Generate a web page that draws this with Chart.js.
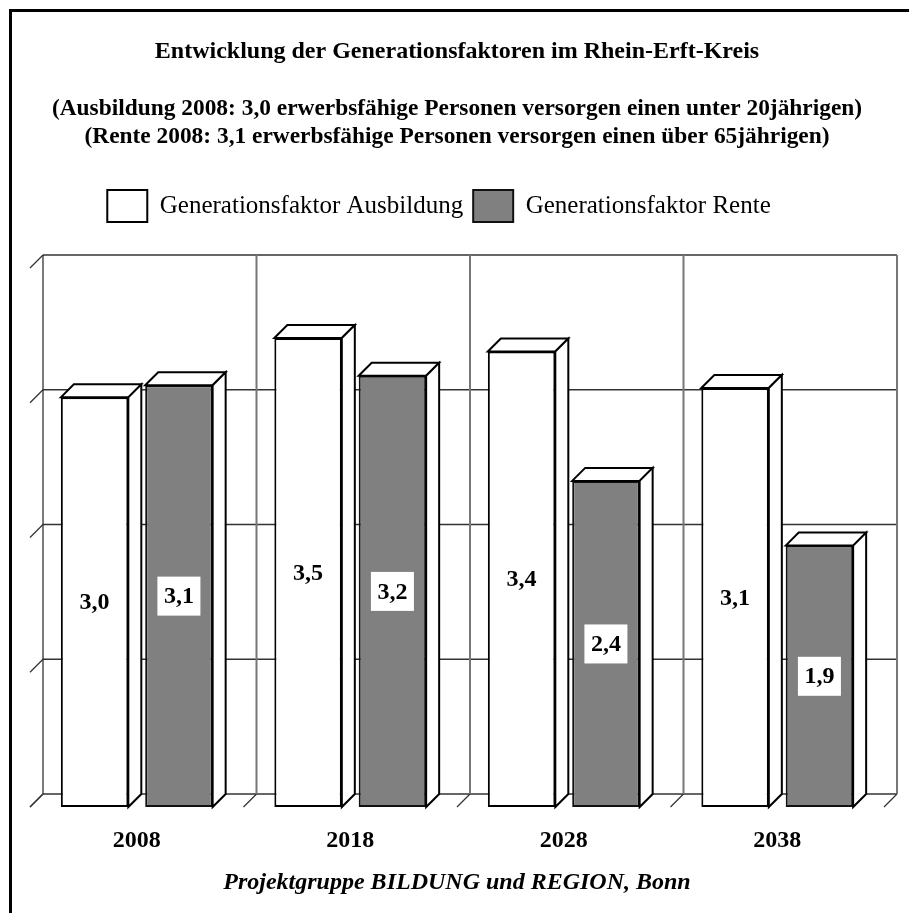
<!DOCTYPE html>
<html>
<head>
<meta charset="utf-8">
<script src="https://cdn.jsdelivr.net/npm/chart.js@4.4.1/dist/chart.umd.min.js"></script>
<style>
  html, body { margin: 0; padding: 0; background: #fff; }
  canvas { display: block; }
</style>
</head>
<body>
<canvas id="chart" width="909" height="913"></canvas>
<script>
// Kategorien und Werte
const years = ["2008", "2018", "2028", "2038"];
const ausbildung = [3.04, 3.48, 3.38, 3.11];
const rente = [3.13, 3.20, 2.42, 1.94];
const yTicks = [0, 1, 2, 3, 4];

const seriesNames = ["Generationsfaktor Ausbildung", "Generationsfaktor Rente"];
const mainTitle = "Entwicklung der Generationsfaktoren im Rhein-Erft-Kreis";
const subLines = [
  "(Ausbildung 2008: 3,0 erwerbsfähige Personen versorgen einen unter 20jährigen)",
  "(Rente 2008: 3,1 erwerbsfähige Personen versorgen einen über 65jährigen)"
];
const footer = "Projektgruppe BILDUNG und REGION, Bonn";

const FONT = "'Liberation Serif', 'Times New Roman', serif";
const DX = 13, DY = 13; // Tiefe der 3D-Optik

// helper: draw a filled + stroked polygon
function poly(ctx, pts, fill) {
  ctx.beginPath();
  ctx.moveTo(pts[0][0], pts[0][1]);
  for (let i = 1; i < pts.length; i++) ctx.lineTo(pts[i][0], pts[i][1]);
  ctx.closePath();
  ctx.fillStyle = fill;
  ctx.fill();
  ctx.stroke();
}

function line(ctx, x1, y1, x2, y2) {
  ctx.beginPath();
  ctx.moveTo(x1, y1);
  ctx.lineTo(x2, y2);
  ctx.stroke();
}

// back wall, 3d bar faces and value labels
const bars3d = {
  id: 'bars3d',
  afterLayout(chart) {
    // Legende sitzt im Original etwas links von der Mitte
    chart.legend.left -= 36;
  },
  beforeDraw(chart) {
    const ctx = chart.ctx;
    ctx.save();
    ctx.fillStyle = '#fff';
    ctx.fillRect(0, 0, chart.width, chart.height);
    // Rahmen (nur oben + links sichtbar)
    ctx.strokeStyle = '#000';
    ctx.lineWidth = 3;
    ctx.beginPath();
    ctx.moveTo(10.5, chart.height);
    ctx.lineTo(10.5, 10.5);
    ctx.lineTo(chart.width, 10.5);
    ctx.stroke();
    ctx.restore();
  },
  beforeDatasetsDraw(chart) {
    const {ctx, chartArea: a, scales: {x, y}} = chart;
    const top = y.getPixelForValue(yTicks[yTicks.length - 1]);
    const bottom = y.getPixelForValue(yTicks[0]);
    ctx.save();
    ctx.strokeStyle = '#333';
    ctx.lineWidth = 1.3;
    yTicks.forEach(v => {
      const py = y.getPixelForValue(v);
      line(ctx, a.left + DX, py - DY, a.right + DX, py - DY);
      line(ctx, a.left, py, a.left + DX, py - DY);
    });
    for (let i = 0; i <= years.length; i++) {
      const px = x.getPixelForValue(i - 0.5);
      ctx.strokeStyle = i === 0 ? '#222' : '#777';
      ctx.lineWidth = i === 0 ? 1.2 : 2;
      line(ctx, px + DX, top - DY, px + DX, bottom - DY);
      ctx.strokeStyle = '#333';
      ctx.lineWidth = 1.2;
      line(ctx, px, bottom, px + DX, bottom - DY);
    }
    ctx.restore();
  },
  afterDatasetsDraw(chart) {
    const ctx = chart.ctx;
    ctx.save();
    ctx.strokeStyle = '#000';
    ctx.lineWidth = 2;
    chart.data.datasets.forEach((ds, di) => {
      const meta = chart.getDatasetMeta(di);
      meta.data.forEach((bar, i) => {
        const p = bar.getProps(['x', 'y', 'base', 'width'], true);
        const l = p.x - p.width / 2, r = p.x + p.width / 2;
        poly(ctx, [[l, p.y], [l + DX, p.y - DY], [r + DX, p.y - DY], [r, p.y]], '#fff');
        poly(ctx, [[r, p.y], [r + DX, p.y - DY], [r + DX, p.base - DY], [r, p.base]], '#fff');

        // Wertbeschriftung
        const txt = ds.data[i].toFixed(1).replace('.', ',');
        const cy = (p.y + p.base) / 2;
        ctx.font = 'bold 24px ' + FONT;
        ctx.textAlign = 'center';
        ctx.textBaseline = 'middle';
        if (di === 1) {
          ctx.fillStyle = '#fff';
          ctx.fillRect(p.x - 21.5, cy - 19.5, 43, 39);
        }
        ctx.fillStyle = '#000';
        ctx.fillText(txt, p.x, cy + 1);
      });
    });
    ctx.restore();
  }
};

new Chart(document.getElementById('chart'), {
  type: 'bar',
  data: {
    labels: years,
    datasets: [
      {
        label: seriesNames[0],
        data: ausbildung,
        backgroundColor: '#ffffff',
        borderColor: '#000000',
        borderWidth: 2,
        borderSkipped: false
      },
      {
        label: seriesNames[1],
        data: rente,
        backgroundColor: '#808080',
        borderColor: '#111111',
        borderWidth: 2,
        borderSkipped: false
      }
    ]
  },
  options: {
    responsive: false,
    animation: false,
    events: [],
    categoryPercentage: 0.79,
    barPercentage: 0.8,
    layout: { padding: { left: 30, right: 25, top: 0, bottom: 16 } },
    plugins: {
      title: {
        display: true,
        text: mainTitle,
        color: '#000',
        font: { family: FONT, size: 24, weight: 'bold', lineHeight: 1.2 },
        padding: { top: 37.6, bottom: 28.6 }
      },
      subtitle: {
        display: true,
        text: subLines,
        color: '#000',
        font: { family: FONT, size: 23.4, weight: 'bold', lineHeight: 28 / 23.4 },
        padding: { top: 0, bottom: 29 }
      },
      legend: {
        display: true,
        position: 'top',
        labels: {
          color: '#000',
          font: { family: FONT, size: 25 },
          boxWidth: 40,
          boxHeight: 32,
          padding: 10
        }
      },
      tooltip: { enabled: false }
    },
    scales: {
      x: {
        position: 'bottom',
        grid: { display: false, drawTicks: false },
        border: { display: false },
        ticks: { color: '#000', padding: 19, font: { family: FONT, size: 24, weight: 'bold' } },
        title: {
          display: true,
          text: footer,
          color: '#000',
          font: { family: FONT, size: 24, weight: 'bold', style: 'italic', lineHeight: 1.2 },
          padding: { top: 10, bottom: 0 }
        },
        afterFit(scale) { scale.height = 90; }
      },
      // leere Achse oben als Abstand zwischen Legende und Zeichenfläche
      gap: {
        type: 'category',
        position: 'top',
        grid: { display: false, drawTicks: false },
        border: { display: false },
        ticks: { display: false },
        afterFit(scale) { scale.height = 36; }
      },
      y: {
        display: false,
        min: 0,
        max: 4,
        ticks: { stepSize: 1 }
      }
    }
  },
  plugins: [bars3d]
});
</script>
</body>
</html>
